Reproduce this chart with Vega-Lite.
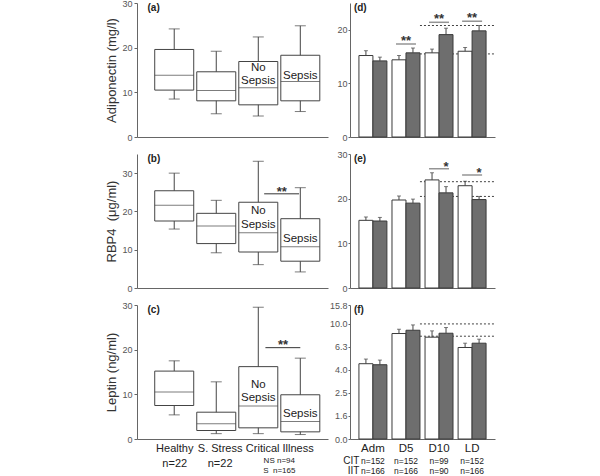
{
"$schema": "https://vega.github.io/schema/vega-lite/v6.json",
"padding": {"left": 105, "top": -1, "right": 0, "bottom": 0},
"background": "white",
"datasets": {
 "adipo_box": [
  {"grp":"Healthy","pos":1,"lo":8.5,"q1":10.5,"med":13.8,"q3":19.6,"hi":24.2},
  {"grp":"S. Stress","pos":2,"lo":5.2,"q1":8.1,"med":10.4,"q3":14.6,"hi":19.2},
  {"grp":"No Sepsis","pos":3,"lo":4.7,"q1":7.2,"med":11.0,"q3":16.9,"hi":22.4},
  {"grp":"Sepsis","pos":4,"lo":5.7,"q1":8.1,"med":12.4,"q3":18.3,"hi":24.9}
 ],
 "rbp4_box": [
  {"grp":"Healthy","pos":1,"lo":15.4,"q1":17.5,"med":21.6,"q3":25.4,"hi":30.0},
  {"grp":"S. Stress","pos":2,"lo":9.2,"q1":11.6,"med":16.2,"q3":19.5,"hi":22.9},
  {"grp":"No Sepsis","pos":3,"lo":6.1,"q1":9.4,"med":14.4,"q3":22.4,"hi":33.1},
  {"grp":"Sepsis","pos":4,"lo":4.2,"q1":7.0,"med":10.8,"q3":18.1,"hi":26.2}
 ],
 "leptin_box": [
  {"grp":"Healthy","pos":1,"lo":5.4,"q1":7.5,"med":10.5,"q3":15.2,"hi":17.5},
  {"grp":"S. Stress","pos":2,"lo":1.2,"q1":1.9,"med":3.4,"q3":6.0,"hi":12.8},
  {"grp":"No Sepsis","pos":3,"lo":1.2,"q1":2.5,"med":7.4,"q3":16.2,"hi":29.5},
  {"grp":"Sepsis","pos":4,"lo":1.0,"q1":1.6,"med":3.9,"q3":9.9,"hi":18.1}
 ],
 "adipo_bar": [
  {"day":"Adm","arm":"CIT","val":15.2,"err":16.1},
  {"day":"Adm","arm":"IIT","val":14.2,"err":14.9},
  {"day":"D5","arm":"CIT","val":14.4,"err":15.2},
  {"day":"D5","arm":"IIT","val":15.7,"err":16.6},
  {"day":"D10","arm":"CIT","val":15.7,"err":16.4},
  {"day":"D10","arm":"IIT","val":19.1,"err":20.3},
  {"day":"LD","arm":"CIT","val":16.0,"err":16.7},
  {"day":"LD","arm":"IIT","val":19.8,"err":20.8}
 ],
 "rbp4_bar": [
  {"day":"Adm","arm":"CIT","val":15.15,"err":15.9},
  {"day":"Adm","arm":"IIT","val":15.0,"err":15.8},
  {"day":"D5","arm":"CIT","val":19.7,"err":20.6},
  {"day":"D5","arm":"IIT","val":19.0,"err":19.9},
  {"day":"D10","arm":"CIT","val":24.2,"err":25.8},
  {"day":"D10","arm":"IIT","val":21.3,"err":22.7},
  {"day":"LD","arm":"CIT","val":22.9,"err":23.9},
  {"day":"LD","arm":"IIT","val":19.8,"err":20.5}
 ],
 "leptin_bar": [
  {"day":"Adm","arm":"CIT","val":4.51,"err":4.95},
  {"day":"Adm","arm":"IIT","val":4.42,"err":4.85},
  {"day":"D5","arm":"CIT","val":8.25,"err":8.99},
  {"day":"D5","arm":"IIT","val":8.81,"err":9.8},
  {"day":"D10","arm":"CIT","val":7.67,"err":8.7},
  {"day":"D10","arm":"IIT","val":8.3,"err":9.3},
  {"day":"LD","arm":"CIT","val":6.24,"err":6.8},
  {"day":"LD","arm":"IIT","val":6.8,"err":7.37}
 ]
},
"columns": 2,
"spacing": {"row": 17, "column": 22},
"bounds": "flush",
"concat": [
  {
   "width": 191, "height": 134,
   "data": {"name": "adipo_box"},
   "layer": [
    {"mark": {"type": "rule", "color": "#444"},
     "encoding": {
      "x": {"field": "pos", "type": "quantitative", "scale": {"domain": [0.233, 4.54], "nice": false, "zero": false}, "axis": {"title": null, "labels": false, "ticks": false}},
      "y": {"field": "lo", "type": "quantitative", "scale": {"domain": [0, 30], "nice": false}, "axis": {"title": "Adiponectin (mg/l)", "values": [0,5,10,15,20,25,30]}},
      "y2": {"field": "hi"}}},
    {"mark": {"type": "bar", "size": 39, "fill": "white", "stroke": "#444", "strokeWidth": 1},
     "encoding": {"x": {"field": "pos", "type": "quantitative"}, "y": {"field": "q1", "type": "quantitative"}, "y2": {"field": "q3"}}},
    {"mark": {"type": "tick", "orient": "horizontal", "size": 39, "thickness": 1, "color": "#444"},
     "encoding": {"x": {"field": "pos", "type": "quantitative"}, "y": {"field": "med", "type": "quantitative"}}},
    {"mark": {"type": "tick", "orient": "horizontal", "size": 11, "thickness": 1, "color": "#444"},
     "encoding": {"x": {"field": "pos", "type": "quantitative"}, "y": {"field": "lo", "type": "quantitative"}}},
    {"mark": {"type": "tick", "orient": "horizontal", "size": 11, "thickness": 1, "color": "#444"},
     "encoding": {"x": {"field": "pos", "type": "quantitative"}, "y": {"field": "hi", "type": "quantitative"}}},
    {"data": {"values": [{}]},
     "mark": {"type": "text", "fontSize": 11.5, "lineHeight": 13, "color": "#222", "baseline": "middle"},
     "encoding": {"x": {"datum": 3}, "y": {"datum": 15.4}, "text": {"value": ["No", "Sepsis"]}}},
    {"data": {"values": [{}]},
     "mark": {"type": "text", "fontSize": 11.5, "color": "#222", "baseline": "middle"},
     "encoding": {"x": {"datum": 4}, "y": {"datum": 13.7}, "text": {"value": "Sepsis"}}},
    {"data": {"values": [{}]},
     "mark": {"type": "text", "align": "left", "baseline": "middle", "dx": 5.5, "dy": 4.5, "fontSize": 10, "fontWeight": "bold", "color": "#222"},
     "encoding": {"x": {"datum": 0.233}, "y": {"datum": 30}, "text": {"value": "(a)"}}}
   ]
  },
  {
   "width": 145, "height": 134,
   "layer": [
    {"data": {"values": [{"ref": 15.5}, {"ref": 20.8}]},
     "mark": {"type": "rule", "strokeDash": [2, 2], "color": "#444", "strokeWidth": 1},
     "encoding": {"x": {"datum": "D5", "bandPosition": 1}, "x2": {"value": "width"}, "y": {"field": "ref", "type": "quantitative"}}},
    {"data": {"name": "adipo_bar"},
     "mark": {"type": "bar", "stroke": "#3a3a3a", "strokeWidth": 1},
     "encoding": {
      "x": {"field": "day", "type": "nominal", "sort": null, "scale": {"domain": ["Adm","D5","D10","LD"], "paddingInner": 0.154, "paddingOuter": 0.27}, "axis": {"title": null, "labels": false, "ticks": false}},
      "xOffset": {"field": "arm", "type": "nominal", "scale": {"domain": ["CIT","IIT"], "paddingInner": 0, "paddingOuter": 0}},
      "y": {"field": "val", "type": "quantitative", "scale": {"domain": [0, 25], "nice": false}, "axis": {"title": null, "values": [0,5,10,15,20,25], "tickSize": 2, "labelPadding": 1}},
      "fill": {"field": "arm", "type": "nominal", "scale": {"domain": ["CIT","IIT"], "range": ["#ffffff", "#6e6e6e"]}, "legend": null}}},
    {"data": {"name": "adipo_bar"},
     "mark": {"type": "rule", "color": "#444"},
     "encoding": {"x": {"field": "day", "type": "nominal"}, "xOffset": {"field": "arm", "type": "nominal"}, "y": {"field": "val", "type": "quantitative"}, "y2": {"field": "err"}}},
    {"data": {"name": "adipo_bar"},
     "mark": {"type": "tick", "orient": "horizontal", "size": 4, "thickness": 1, "color": "#444"},
     "encoding": {"x": {"field": "day", "type": "nominal"}, "xOffset": {"field": "arm", "type": "nominal"}, "y": {"field": "err", "type": "quantitative"}}},
    {"data": {"values": [{"day": "D5", "y": 17.35, "s": "**"}, {"day": "D10", "y": 21.4, "s": "**"}, {"day": "LD", "y": 21.6, "s": "**"}]},
     "mark": {"type": "tick", "orient": "horizontal", "size": 20, "thickness": 1.5, "color": "#666"},
     "encoding": {"x": {"field": "day", "type": "nominal"}, "y": {"field": "y", "type": "quantitative"}}},
    {"data": {"values": [{"day": "D5", "y": 17.35, "s": "**"}, {"day": "D10", "y": 21.4, "s": "**"}, {"day": "LD", "y": 21.6, "s": "**"}]},
     "mark": {"type": "text", "fontSize": 13, "fontWeight": "bold", "color": "#333", "baseline": "alphabetic", "dy": 1},
     "encoding": {"x": {"field": "day", "type": "nominal"}, "y": {"field": "y", "type": "quantitative"}, "text": {"field": "s"}}},
    {"data": {"values": [{}]},
     "mark": {"type": "text", "align": "left", "baseline": "middle", "dx": -5, "dy": 4.5, "fontSize": 10, "fontWeight": "bold", "color": "#222"},
     "encoding": {"x": {"datum": "Adm", "bandPosition": 0}, "y": {"datum": 25}, "text": {"value": "(d)"}}}
   ]
  },
  {
   "width": 191, "height": 134,
   "data": {"name": "rbp4_box"},
   "layer": [
    {"mark": {"type": "rule", "color": "#444"},
     "encoding": {
      "x": {"field": "pos", "type": "quantitative", "scale": {"domain": [0.233, 4.54], "nice": false, "zero": false}, "axis": {"title": null, "labels": false, "ticks": false}},
      "y": {"field": "lo", "type": "quantitative", "scale": {"domain": [0, 35], "nice": false}, "axis": {"title": "RBP4\u00a0 (μg/ml)", "values": [0,5,10,15,20,25,30,35]}},
      "y2": {"field": "hi"}}},
    {"mark": {"type": "bar", "size": 39, "fill": "white", "stroke": "#444", "strokeWidth": 1},
     "encoding": {"x": {"field": "pos", "type": "quantitative"}, "y": {"field": "q1", "type": "quantitative"}, "y2": {"field": "q3"}}},
    {"mark": {"type": "tick", "orient": "horizontal", "size": 39, "thickness": 1, "color": "#444"},
     "encoding": {"x": {"field": "pos", "type": "quantitative"}, "y": {"field": "med", "type": "quantitative"}}},
    {"mark": {"type": "tick", "orient": "horizontal", "size": 11, "thickness": 1, "color": "#444"},
     "encoding": {"x": {"field": "pos", "type": "quantitative"}, "y": {"field": "lo", "type": "quantitative"}}},
    {"mark": {"type": "tick", "orient": "horizontal", "size": 11, "thickness": 1, "color": "#444"},
     "encoding": {"x": {"field": "pos", "type": "quantitative"}, "y": {"field": "hi", "type": "quantitative"}}},
    {"data": {"values": [{}]},
     "mark": {"type": "text", "fontSize": 11.5, "lineHeight": 13.5, "color": "#222", "baseline": "middle"},
     "encoding": {"x": {"datum": 3}, "y": {"datum": 20.1}, "text": {"value": ["No", "Sepsis"]}}},
    {"data": {"values": [{}]},
     "mark": {"type": "text", "fontSize": 11.5, "color": "#222", "baseline": "middle"},
     "encoding": {"x": {"datum": 4}, "y": {"datum": 12.7}, "text": {"value": "Sepsis"}}},
    {"data": {"values": [{}]},
     "mark": {"type": "rule", "color": "#333", "strokeWidth": 1},
     "encoding": {"x": {"datum": 3.14}, "x2": {"datum": 3.97}, "y": {"datum": 24.6}}},
    {"data": {"values": [{}]},
     "mark": {"type": "text", "fontSize": 13, "fontWeight": "bold", "color": "#333", "baseline": "alphabetic", "dy": 2},
     "encoding": {"x": {"datum": 3.56}, "y": {"datum": 24.6}, "text": {"value": "**"}}},
    {"data": {"values": [{}]},
     "mark": {"type": "text", "align": "left", "baseline": "middle", "dx": 5.5, "dy": 4.5, "fontSize": 10, "fontWeight": "bold", "color": "#222"},
     "encoding": {"x": {"datum": 0.233}, "y": {"datum": 35}, "text": {"value": "(b)"}}}
   ]
  },
  {
   "width": 145, "height": 134,
   "layer": [
    {"data": {"values": [{"ref": 20.5}, {"ref": 23.8}]},
     "mark": {"type": "rule", "strokeDash": [2, 2], "color": "#444", "strokeWidth": 1},
     "encoding": {"x": {"datum": "D5", "bandPosition": 1}, "x2": {"value": "width"}, "y": {"field": "ref", "type": "quantitative"}}},
    {"data": {"name": "rbp4_bar"},
     "mark": {"type": "bar", "stroke": "#3a3a3a", "strokeWidth": 1},
     "encoding": {
      "x": {"field": "day", "type": "nominal", "sort": null, "scale": {"domain": ["Adm","D5","D10","LD"], "paddingInner": 0.154, "paddingOuter": 0.27}, "axis": {"title": null, "labels": false, "ticks": false}},
      "xOffset": {"field": "arm", "type": "nominal", "scale": {"domain": ["CIT","IIT"], "paddingInner": 0, "paddingOuter": 0}},
      "y": {"field": "val", "type": "quantitative", "scale": {"domain": [0, 30], "nice": false}, "axis": {"title": null, "values": [0,5,10,15,20,25,30], "tickSize": 2, "labelPadding": 1}},
      "fill": {"field": "arm", "type": "nominal", "scale": {"domain": ["CIT","IIT"], "range": ["#ffffff", "#6e6e6e"]}, "legend": null}}},
    {"data": {"name": "rbp4_bar"},
     "mark": {"type": "rule", "color": "#444"},
     "encoding": {"x": {"field": "day", "type": "nominal"}, "xOffset": {"field": "arm", "type": "nominal"}, "y": {"field": "val", "type": "quantitative"}, "y2": {"field": "err"}}},
    {"data": {"name": "rbp4_bar"},
     "mark": {"type": "tick", "orient": "horizontal", "size": 4, "thickness": 1, "color": "#444"},
     "encoding": {"x": {"field": "day", "type": "nominal"}, "xOffset": {"field": "arm", "type": "nominal"}, "y": {"field": "err", "type": "quantitative"}}},
    {"data": {"values": [{"day": "D10", "y": 26.7, "s": "*"}, {"day": "LD", "y": 25.3, "s": "*"}]},
     "mark": {"type": "tick", "orient": "horizontal", "size": 20, "thickness": 1.5, "color": "#666"},
     "encoding": {"x": {"field": "day", "type": "nominal"}, "y": {"field": "y", "type": "quantitative"}}},
    {"data": {"values": [{"day": "D10", "y": 26.7, "s": "*"}, {"day": "LD", "y": 25.3, "s": "*"}]},
     "mark": {"type": "text", "fontSize": 13, "fontWeight": "bold", "color": "#333", "baseline": "alphabetic", "dy": 2, "dx": 7},
     "encoding": {"x": {"field": "day", "type": "nominal"}, "y": {"field": "y", "type": "quantitative"}, "text": {"field": "s"}}},
    {"data": {"values": [{}]},
     "mark": {"type": "text", "align": "left", "baseline": "middle", "dx": -5, "dy": 4.5, "fontSize": 10, "fontWeight": "bold", "color": "#222"},
     "encoding": {"x": {"datum": "Adm", "bandPosition": 0}, "y": {"datum": 30}, "text": {"value": "(e)"}}}
   ]
  },
  {
   "width": 191, "height": 134,
   "data": {"name": "leptin_box"},
   "layer": [
    {"mark": {"type": "rule", "color": "#444"},
     "encoding": {
      "x": {"field": "pos", "type": "quantitative", "scale": {"domain": [0.233, 4.54], "nice": false, "zero": false},
            "axis": {"title": null, "ticks": false, "values": [1, 2.08, 3.5], "labelExpr": "datum.value < 1.5 ? ['Healthy', 'n=22'] : datum.value < 2.5 ? ['S. Stress', 'n=22'] : 'Critical Illness'", "labelFontSize": 11, "labelColor": "#222", "labelPadding": 3, "labelLineHeight": 15}},
      "y": {"field": "lo", "type": "quantitative", "scale": {"domain": [0, 30], "nice": false}, "axis": {"title": "Leptin (ng/ml)", "values": [0,5,10,15,20,25,30]}},
      "y2": {"field": "hi"}}},
    {"mark": {"type": "bar", "size": 39, "fill": "white", "stroke": "#444", "strokeWidth": 1},
     "encoding": {"x": {"field": "pos", "type": "quantitative"}, "y": {"field": "q1", "type": "quantitative"}, "y2": {"field": "q3"}}},
    {"mark": {"type": "tick", "orient": "horizontal", "size": 39, "thickness": 1, "color": "#444"},
     "encoding": {"x": {"field": "pos", "type": "quantitative"}, "y": {"field": "med", "type": "quantitative"}}},
    {"mark": {"type": "tick", "orient": "horizontal", "size": 11, "thickness": 1, "color": "#444"},
     "encoding": {"x": {"field": "pos", "type": "quantitative"}, "y": {"field": "lo", "type": "quantitative"}}},
    {"mark": {"type": "tick", "orient": "horizontal", "size": 11, "thickness": 1, "color": "#444"},
     "encoding": {"x": {"field": "pos", "type": "quantitative"}, "y": {"field": "hi", "type": "quantitative"}}},
    {"data": {"values": [{}]},
     "mark": {"type": "text", "fontSize": 11.5, "lineHeight": 13.5, "color": "#222", "baseline": "middle"},
     "encoding": {"x": {"datum": 3}, "y": {"datum": 12.2}, "text": {"value": ["No", "Sepsis"]}}},
    {"data": {"values": [{}]},
     "mark": {"type": "text", "fontSize": 11.5, "color": "#222", "baseline": "middle"},
     "encoding": {"x": {"datum": 4}, "y": {"datum": 5.7}, "text": {"value": "Sepsis"}}},
    {"data": {"values": [{}]},
     "mark": {"type": "rule", "color": "#333", "strokeWidth": 1},
     "encoding": {"x": {"datum": 3.17}, "x2": {"datum": 4.0}, "y": {"datum": 20.45}}},
    {"data": {"values": [{}]},
     "mark": {"type": "text", "fontSize": 13, "fontWeight": "bold", "color": "#333", "baseline": "alphabetic", "dy": 1.5},
     "encoding": {"x": {"datum": 3.59}, "y": {"datum": 20.45}, "text": {"value": "**"}}},
    {"data": {"values": [{}]},
     "mark": {"type": "text", "fontSize": 8, "color": "#222", "dy": 22, "baseline": "middle"},
     "encoding": {"x": {"datum": 3.5}, "y": {"datum": 0}, "text": {"value": "NS n=94"}}},
    {"data": {"values": [{}]},
     "mark": {"type": "text", "fontSize": 8, "color": "#222", "dy": 32, "baseline": "middle"},
     "encoding": {"x": {"datum": 3.5}, "y": {"datum": 0}, "text": {"value": "S\u00a0 n=165"}}},
    {"data": {"values": [{}]},
     "mark": {"type": "text", "align": "left", "baseline": "middle", "dx": 5.5, "dy": 4.5, "fontSize": 10, "fontWeight": "bold", "color": "#222"},
     "encoding": {"x": {"datum": 0.233}, "y": {"datum": 30}, "text": {"value": "(c)"}}}
   ]
  },
  {
   "width": 145, "height": 134,
   "layer": [
    {"data": {"values": [{"ref": 7.82}, {"ref": 10.0}]},
     "mark": {"type": "rule", "strokeDash": [2, 2], "color": "#444", "strokeWidth": 1},
     "encoding": {"x": {"datum": "D5", "bandPosition": 1}, "x2": {"value": "width"}, "y": {"field": "ref", "type": "quantitative"}}},
    {"data": {"name": "leptin_bar"},
     "mark": {"type": "bar", "stroke": "#3a3a3a", "strokeWidth": 1},
     "encoding": {
      "x": {"field": "day", "type": "nominal", "sort": null, "scale": {"domain": ["Adm","D5","D10","LD"], "paddingInner": 0.154, "paddingOuter": 0.27},
            "axis": {"title": null, "ticks": false, "labels": false}},
      "xOffset": {"field": "arm", "type": "nominal", "scale": {"domain": ["CIT","IIT"], "paddingInner": 0, "paddingOuter": 0}},
      "y": {"field": "val", "type": "quantitative", "scale": {"type": "log", "domain": [1, 14.6], "nice": false},
            "axis": {"title": null, "values": [1, 1.585, 2.512, 3.981, 6.31, 10, 14.6], "labelExpr": "datum.value < 1.01 ? '0.0' : datum.value > 14 ? '15.8' : format(datum.value, '.1f')", "tickSize": 2, "labelPadding": 1}},
      "y2": {"datum": 1},
      "fill": {"field": "arm", "type": "nominal", "scale": {"domain": ["CIT","IIT"], "range": ["#ffffff", "#6e6e6e"]}, "legend": null}}},
    {"data": {"name": "leptin_bar"},
     "mark": {"type": "rule", "color": "#444"},
     "encoding": {"x": {"field": "day", "type": "nominal"}, "xOffset": {"field": "arm", "type": "nominal"}, "y": {"field": "val", "type": "quantitative"}, "y2": {"field": "err"}}},
    {"data": {"name": "leptin_bar"},
     "mark": {"type": "tick", "orient": "horizontal", "size": 4, "thickness": 1, "color": "#444"},
     "encoding": {"x": {"field": "day", "type": "nominal"}, "xOffset": {"field": "arm", "type": "nominal"}, "y": {"field": "err", "type": "quantitative"}}},
    {"data": {"values": [{"day": "Adm"}, {"day": "D5"}, {"day": "D10"}, {"day": "LD"}]},
     "mark": {"type": "text", "fontSize": 11.5, "color": "#222", "dy": 10, "baseline": "middle"},
     "encoding": {"x": {"field": "day", "type": "nominal"}, "y": {"datum": 1}, "text": {"field": "day"}}},
    {"data": {"values": [{"day": "Adm", "n": "n=152"}, {"day": "D5", "n": "n=152"}, {"day": "D10", "n": "n=99"}, {"day": "LD", "n": "n=152"}]},
     "mark": {"type": "text", "fontSize": 8.5, "color": "#222", "dy": 21.5, "baseline": "middle"},
     "encoding": {"x": {"field": "day", "type": "nominal"}, "y": {"datum": 1}, "text": {"field": "n"}}},
    {"data": {"values": [{"day": "Adm", "n": "n=166"}, {"day": "D5", "n": "n=166"}, {"day": "D10", "n": "n=90"}, {"day": "LD", "n": "n=166"}]},
     "mark": {"type": "text", "fontSize": 8.5, "color": "#222", "dy": 31.5, "baseline": "middle"},
     "encoding": {"x": {"field": "day", "type": "nominal"}, "y": {"datum": 1}, "text": {"field": "n"}}},
    {"data": {"values": [{}]},
     "mark": {"type": "text", "fontSize": 10, "color": "#222", "dy": 21.5, "dx": -13.5, "align": "right", "baseline": "middle"},
     "encoding": {"x": {"datum": "Adm"}, "y": {"datum": 1}, "text": {"value": "CIT"}}},
    {"data": {"values": [{}]},
     "mark": {"type": "text", "fontSize": 10, "color": "#222", "dy": 31.5, "dx": -13.5, "align": "right", "baseline": "middle"},
     "encoding": {"x": {"datum": "Adm"}, "y": {"datum": 1}, "text": {"value": "IIT"}}},
    {"data": {"values": [{}]},
     "mark": {"type": "text", "align": "left", "baseline": "middle", "dx": -5, "dy": 4.5, "fontSize": 10, "fontWeight": "bold", "color": "#222"},
     "encoding": {"x": {"datum": "Adm", "bandPosition": 0}, "y": {"datum": 14.6}, "text": {"value": "(f)"}}}
   ]
  }
],
"config": {
 "view": {"stroke": null},
 "font": "Liberation Sans",
 "text": {"font": "Liberation Sans"},
 "axis": {"grid": false, "labelFont": "Liberation Sans", "labelFontSize": 9, "labelColor": "#555", "domainColor": "#666", "tickColor": "#666", "tickSize": 3, "labelPadding": 2, "titleFont": "Liberation Sans", "titleFontSize": 13, "titleFontWeight": "normal", "titleColor": "#333", "titlePadding": 3}
}
}
